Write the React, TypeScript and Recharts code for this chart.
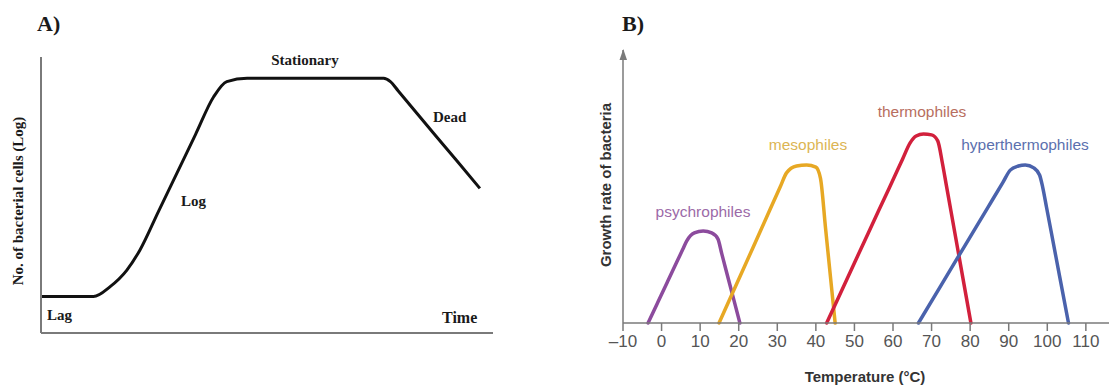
import { Line, LineChart, XAxis, YAxis } from "recharts";

// Panel A: bacterial growth curve (arbitrary units)
const growthTime = [0, 11.6, 15.3, 19, 21.9, 26, 30.1, 34.2, 38.2, 41.1, 45.6, 75.8, 77.3, 79, 82, 86.9, 92, 97.1];
const growthCells = [13.2, 13.2, 16.8, 22.8, 30.1, 44.1, 58.0, 72.0, 85.6, 91.1, 92.3, 92.3, 91.1, 87.8, 81.9, 72.3, 62.4, 52.4];

// Panel B: growth rate vs temperature (°C)
const psychroTemp = [-3.5, -1, 1.5, 4, 5.5, 6.5, 8.5, 10.8, 13, 14.6, 15.6, 16.5, 18.4, 20.3];
const psychroRate = [0, 7.5, 15, 22.5, 27, 30, 33, 33.7, 33, 30.8, 25.4, 20.5, 10.3, 0];
const mesoTemp = [14.9, 19.3, 23.6, 28, 30.8, 32.4, 35, 37.6, 40, 41.2, 42.5, 43.8, 45];
const mesoRate = [0, 13.8, 27.3, 41.2, 50, 55, 57.5, 57.9, 57.1, 53, 34.9, 16.7, 0];
const thermoTemp = [42.8, 48.2, 53.6, 59, 62.5, 64.4, 66, 67.9, 70, 71.6, 72.8, 73.8, 75, 77.5, 80.2];
const thermoRate = [0, 16.5, 33, 49.4, 60.1, 65.9, 68.5, 69.2, 68.9, 66.7, 58.6, 50.7, 41.2, 21.4, 0];
const hyperTemp = [66.6, 72.5, 78.5, 84.5, 88.5, 90.4, 92.5, 94.3, 96.5, 98, 98.8, 99.8, 101, 103.2, 105.5];
const hyperRate = [0, 13.9, 28, 42.1, 51.5, 56, 57.5, 57.9, 56.8, 54.2, 49.8, 42.4, 33.5, 17.1, 0];

const tempTicks = [-10, 0, 10, 20, 30, 40, 50, 60, 70, 80, 90, 100, 110];

const zip = (xs: number[], ys: number[]) => xs.map((temp, i) => ({ temp, rate: ys[i] }));

const growthData = growthTime.map((t, i) => ({ t, n: growthCells[i] }));
const series = [
  { name: "psychrophiles", data: zip(psychroTemp, psychroRate), color: "#8c4b9d" },
  { name: "mesophiles", data: zip(mesoTemp, mesoRate), color: "#e7a824" },
  { name: "thermophiles", data: zip(thermoTemp, thermoRate), color: "#d2203c" },
  { name: "hyperthermophiles", data: zip(hyperTemp, hyperRate), color: "#4a62ac" }
];

const serif = "'Liberation Serif', 'Times New Roman', serif";
const sans = "'Liberation Sans', Arial, sans-serif";
const axisGrey = "#7a7a7a";

export default function App() {
  return (
    <div style={{ position: "absolute", left: 0, top: 0, width: 1109, height: 387, background: "#fff" }}>
      <div style={{ position: "absolute", left: 0, top: 0 }}>
        <LineChart width={500} height={387} data={growthData} margin={{ top: 57, right: 7, bottom: 34, left: 31 }}>
          <XAxis type="number" dataKey="t" domain={[0, 100]} tick={false} tickLine={false} height={20} axisLine={{ stroke: axisGrey, strokeWidth: 2 }} />
          <YAxis type="number" domain={[0, 100]} tick={false} tickLine={false} width={10} axisLine={{ stroke: axisGrey, strokeWidth: 2 }} />
          <Line type="monotone" dataKey="n" stroke="#111" strokeWidth={3} dot={false} isAnimationActive={false} />
        </LineChart>
      </div>

      <div style={{ position: "absolute", left: 580, top: 0 }}>
        <LineChart width={529} height={387} margin={{ top: 50, right: 0, bottom: 24, left: 33 }}>
          <XAxis
            type="number"
            dataKey="temp"
            domain={[-10, 116]}
            ticks={tempTicks}
            interval={0}
            height={40}
            tickSize={8}
            tickMargin={4}
            tickFormatter={(v: number) => (v < 0 ? `\u2013${Math.abs(v)}` : `${v}`)}
            tick={{ fontSize: 17, fill: "#555", fontFamily: sans }}
            tickLine={{ stroke: axisGrey, strokeWidth: 1.5 }}
            axisLine={{ stroke: axisGrey, strokeWidth: 1.5 }}
          />
          <YAxis type="number" domain={[0, 100]} tick={false} tickLine={false} width={10} axisLine={{ stroke: axisGrey, strokeWidth: 1.5 }} />
          {series.map((s) => (
            <Line
              key={s.name}
              data={s.data}
              dataKey="rate"
              type="monotone"
              stroke={s.color}
              strokeWidth={3.5}
              strokeLinecap="round"
              dot={false}
              isAnimationActive={false}
            />
          ))}
        </LineChart>
      </div>

      <svg width={1109} height={387} style={{ position: "absolute", left: 0, top: 0, pointerEvents: "none" }}>
        <g fontFamily={serif} fontWeight="bold" fill="#1a1a1a">
          <text x={37} y={31} fontSize={22}>A)</text>
          <text x={305} y={65} fontSize={15} textAnchor="middle">Stationary</text>
          <text x={433} y={122} fontSize={15}>Dead</text>
          <text x={181} y={206} fontSize={15}>Log</text>
          <text x={47} y={320} fontSize={15}>Lag</text>
          <text x={442} y={323} fontSize={16}>Time</text>
          <text x={18} y={201} fontSize={15} textAnchor="middle" dominantBaseline="central" transform="rotate(-90 18 201)">
            No. of bacterial cells (Log)
          </text>
          <text x={622} y={31} fontSize={22}>B)</text>
        </g>
        <polygon points="619.5,60 627,60 623.3,49" fill={axisGrey} />
        <g fontFamily={sans} fontSize={15.5}>
          <text x={703} y={217} textAnchor="middle" fill="#9c6aa8">psychrophiles</text>
          <text x={808} y={150} textAnchor="middle" fill="#dcb553">mesophiles</text>
          <text x={922} y={117} textAnchor="middle" fill="#b86e60">thermophiles</text>
          <text x={1025} y={150} textAnchor="middle" fill="#5b70ae">hyperthermophiles</text>
        </g>
        <g fontFamily={sans} fontWeight="bold" fill="#333" fontSize={15}>
          <text x={865} y={382} textAnchor="middle">Temperature (°C)</text>
          <text x={605} y={185} textAnchor="middle" dominantBaseline="central" transform="rotate(-90 605 185)">
            Growth rate of bacteria
          </text>
        </g>
      </svg>
    </div>
  );
}
